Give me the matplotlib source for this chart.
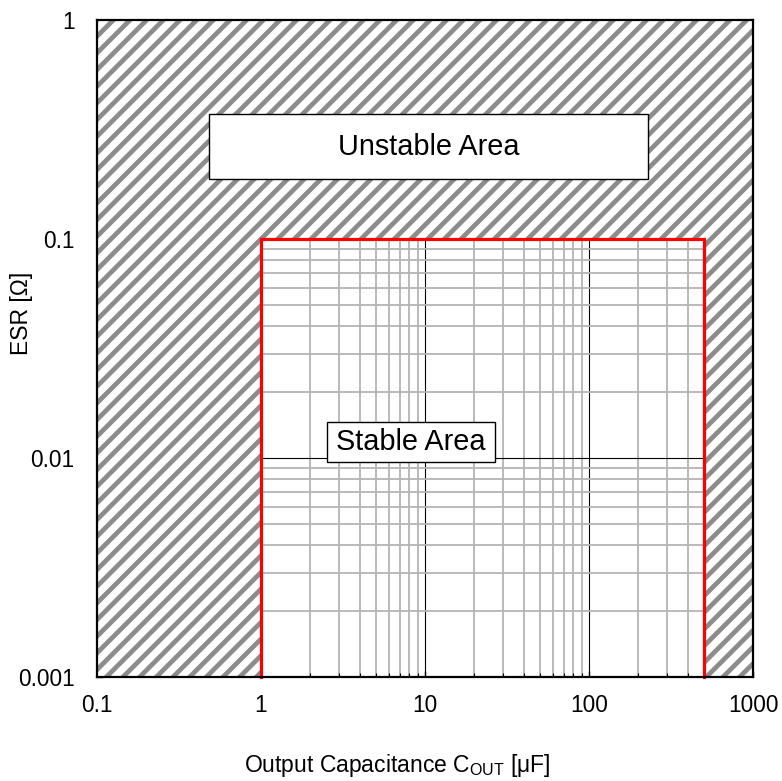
"""
Stability region of output capacitance vs ESR (log-log), hatched unstable area.
"""

import matplotlib
matplotlib.use('Agg')
import matplotlib.pyplot as plt
from matplotlib.patches import Rectangle
from matplotlib.ticker import FixedLocator, FixedFormatter, LogLocator

plt.rcParams['font.family'] = ['Liberation Sans', 'DejaVu Sans']
plt.rcParams['mathtext.fontset'] = 'custom'
plt.rcParams['mathtext.rm'] = 'Liberation Sans'
plt.rcParams['hatch.linewidth'] = 3.4

# axis ranges
cout_range = [0.1, 1000]        # uF
esr_range = [0.001, 1]          # ohm

# stable region limits
cout_stable = [1, 500]          # uF
esr_stable = [0.001, 0.1]       # ohm

x_ticks = [0.1, 1, 10, 100, 1000]
x_labels = ['0.1', '1', '10', '100', '1000']
y_ticks = [0.001, 0.01, 0.1, 1]
y_labels = ['0.001', '0.01', '0.1', '1']


def main():
    fig = plt.figure(figsize=(7.82, 7.81), dpi=100)
    ax = fig.add_axes([0.124, 0.133, 0.839, 0.841])
    ax.set_xscale('log')
    ax.set_yscale('log')
    ax.set_xlim(cout_range)
    ax.set_ylim(esr_range)

    ax.xaxis.set_major_locator(FixedLocator(x_ticks))
    ax.xaxis.set_major_formatter(FixedFormatter(x_labels))
    ax.yaxis.set_major_locator(FixedLocator(y_ticks))
    ax.yaxis.set_major_formatter(FixedFormatter(y_labels))
    ax.xaxis.set_minor_locator(LogLocator(base=10, subs=range(2, 10)))
    ax.yaxis.set_minor_locator(LogLocator(base=10, subs=range(2, 10)))
    ax.xaxis.set_minor_formatter(FixedFormatter([]))
    ax.yaxis.set_minor_formatter(FixedFormatter([]))

    ax.tick_params(which='both', direction='in', colors='black', labelsize=16.3)
    ax.tick_params(which='major', length=4, width=1)
    ax.tick_params(which='minor', length=3, width=0.8)
    ax.tick_params(axis='x', which='major', pad=12)
    ax.tick_params(axis='y', which='major', pad=16)

    # grid shows only inside the stable region (hatch covers the rest)
    ax.set_axisbelow(True)
    ax.grid(which='major', color='black', linewidth=0.8)
    ax.grid(which='minor', color='#b4b4b4', linewidth=1.3)

    # hatched unstable area: left, top and right of the stable region
    hatch_kw = dict(facecolor='white', edgecolor='#8c8c8c', linewidth=0,
                    hatch='//', zorder=1)
    regions = [
        (cout_range[0], esr_range[0], cout_stable[0], esr_range[1]),
        (cout_stable[0], esr_stable[1], cout_range[1], esr_range[1]),
        (cout_stable[1], esr_range[0], cout_range[1], esr_stable[1]),
    ]
    for x0, y0, x1, y1 in regions:
        ax.add_patch(Rectangle((x0, y0), x1 - x0, y1 - y0, **hatch_kw))

    # red outline of stable region
    ax.plot([cout_stable[0], cout_stable[0], cout_stable[1], cout_stable[1]],
            [esr_stable[0], esr_stable[1], esr_stable[1], esr_stable[0]],
            color='#ff0000', linewidth=2.3, zorder=4, clip_on=False,
            solid_joinstyle='miter')

    # labelled boxes
    ax.add_patch(Rectangle((0.171, 0.758), 0.669, 0.099, transform=ax.transAxes,
                           facecolor='white', edgecolor='black', linewidth=1,
                           zorder=5))
    ax.text(0.5055, 0.8075, 'Unstable Area', transform=ax.transAxes,
            ha='center', va='center', fontsize=20.8, zorder=6)
    ax.add_patch(Rectangle((0.351, 0.327), 0.256, 0.061, transform=ax.transAxes,
                           facecolor='white', edgecolor='black', linewidth=1,
                           zorder=5))
    ax.text(0.479, 0.3575, 'Stable Area', transform=ax.transAxes,
            ha='center', va='center', fontsize=20.8, zorder=6)

    for s in ax.spines.values():
        s.set_linewidth(1.6)
        s.set_zorder(7)

    ax.set_xlabel(r'Output Capacitance C$_{\mathrm{OUT}}$ [μF]', fontsize=16.5)
    ax.set_ylabel('ESR [Ω]', fontsize=16.5)
    ax.xaxis.set_label_coords(0.457, -0.114)
    ax.yaxis.set_label_coords(-0.098, 0.554)

    fig.savefig('out.png', dpi=100)


if __name__ == '__main__':
    main()
